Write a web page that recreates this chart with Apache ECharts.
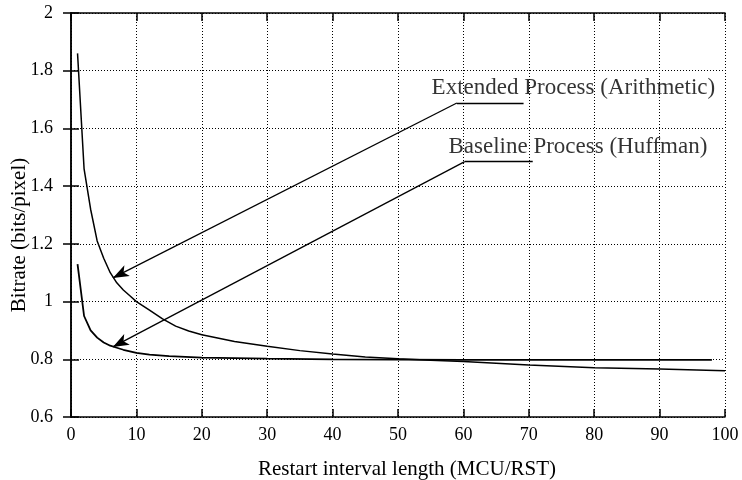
<!DOCTYPE html>
<html><head><meta charset="utf-8">
<script src="https://cdn.jsdelivr.net/npm/echarts@6/dist/echarts.min.js"></script>
<style>html,body{margin:0;padding:0;background:#fff}#c{width:742px;height:480px}</style>
</head><body><div id="c"></div>
<script>
const extX = [1,2,3,4,5,6,7,8,9,10,12,14,16,18,20,25,30,35,40,45,50,55,60,70,80,90,100];
const extY = [1.86,1.46,1.32,1.21,1.15,1.10,1.065,1.04,1.02,1.0,0.97,0.94,0.915,0.898,0.885,0.862,0.845,0.83,0.818,0.808,0.802,0.797,0.792,0.780,0.771,0.766,0.760];
const baseX = [1,2,3,4,5,6,7,8,10,12,15,20,30,40,50,60,70,80,90,98];
const baseY = [1.13,0.95,0.90,0.875,0.858,0.847,0.84,0.833,0.822,0.816,0.811,0.806,0.802,0.80,0.799,0.798,0.798,0.798,0.798,0.798];
const xTicks = [0,10,20,30,40,50,60,70,80,90,100];
const yTicks = [0.6,0.8,1,1.2,1.4,1.6,1.8,2];
const extLabel = "Extended Process (Arithmetic)";
const baseLabel = "Baseline Process (Huffman)";
// annotation leader points in data units: [end of shelf, knee, arrow tip]
const extLeader = [[69.2,1.688],[59.0,1.688],[6.4,1.082]];
const baseLeader = [[70.6,1.485],[60.2,1.485],[6.4,0.843]];
const extLabelPos = [98.5,1.74];
const baseLabelPos = [97.3,1.535];

const font = "Liberation Serif";
const pair = (xs, ys) => xs.map((x,i)=>[x,ys[i]]);
function leader(pts){
  return [
    [{coord:pts[0], symbol:'none'},{coord:pts[1], symbol:'none'}],
    [{coord:pts[1], symbol:'none'},{coord:pts[2], symbol:'arrow', symbolSize:[9,16]}]
  ];
}
const chart = echarts.init(document.getElementById('c'), null, {renderer:'canvas'});
const axisLineStyle = {color:'#000', width:1.5};
chart.setOption({
  animation:false,
  grid:{left:71, right:17, top:13, bottom:63, containLabel:false, outerBoundsMode:'none'},
  xAxis:[{
    type:'value', min:0, max:100, interval:10,
    name:'Restart interval length (MCU/RST)', nameLocation:'middle', nameGap:42,
    nameTextStyle:{fontFamily:font, fontSize:21, color:'#000', padding:[0,0,0,18]},
    axisLine:{lineStyle:axisLineStyle},
    axisTick:{inside:true, length:8, lineStyle:{color:'#000', width:1.5}},
    axisLabel:{fontFamily:font, fontSize:18, color:'#000', margin:9,
      formatter:v=>xTicks.includes(v)?String(v):''},
    splitLine:{show:true, lineStyle:{type:[1,2], color:'#000', width:1}}
  },{
    type:'value', min:0, max:100, interval:10, position:'top',
    axisLine:{lineStyle:axisLineStyle},
    axisTick:{inside:true, length:8, lineStyle:{color:'#000', width:1.5}},
    axisLabel:{show:false}, splitLine:{show:false}
  }],
  yAxis:[{
    type:'value', min:0.6, max:2, interval:0.2,
    name:'Bitrate (bits/pixel)', nameLocation:'middle', nameGap:41, nameMoveOverlap:false,
    nameTextStyle:{fontFamily:font, fontSize:21, color:'#000', padding:[0,40,0,0]},
    axisLine:{show:true, lineStyle:axisLineStyle},
    axisTick:{show:true, inside:true, length:8, lineStyle:{color:'#000', width:1.5}},
    axisLabel:{fontFamily:font, fontSize:18, color:'#000', margin:18,
      formatter:v=>{const r=Math.round(v*10)/10; return yTicks.some(t=>Math.abs(t-r)<1e-9)?String(r):'';}},
    splitLine:{show:true, lineStyle:{type:[1,2], color:'#000', width:1}}
  },{
    type:'value', min:0.6, max:2, interval:0.2, position:'right',
    axisLine:{show:true, lineStyle:axisLineStyle},
    axisTick:{show:true, inside:true, length:8, lineStyle:{color:'#000', width:1.5}},
    axisLabel:{show:false}, splitLine:{show:false}
  }],
  series:[
    {type:'line', data:pair(extX,extY), showSymbol:false, lineStyle:{color:'#000', width:1.5},
     markLine:{silent:true, lineStyle:{color:'#000', width:1.3, type:'solid'}, label:{show:false}, data:leader(extLeader)}},
    {type:'line', data:pair(baseX,baseY), showSymbol:false, lineStyle:{color:'#000', width:1.8},
     markLine:{silent:true, lineStyle:{color:'#000', width:1.3, type:'solid'}, label:{show:false}, data:leader(baseLeader)}},
    {type:'scatter', symbolSize:0, silent:true,
     data:[{value:extLabelPos, name:extLabel},{value:baseLabelPos, name:baseLabel}],
     label:{show:true, position:'left', distance:0, formatter:p=>p.name,
       fontFamily:font, fontSize:23, color:'#000'}}
  ]
});
</script></body></html>
